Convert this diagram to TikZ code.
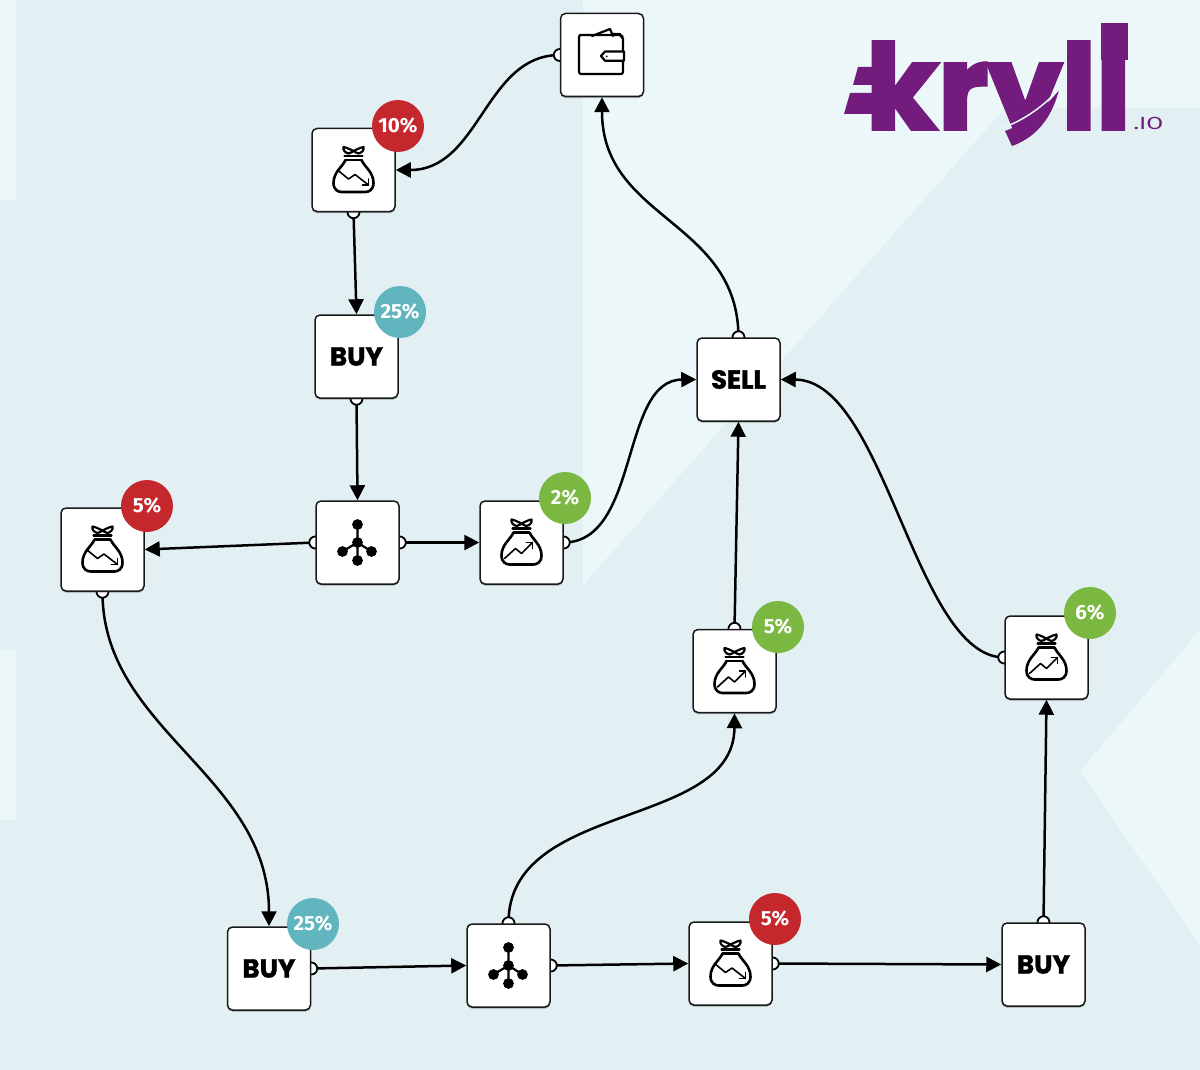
\documentclass[tikz,border=0pt]{standalone}
\usepackage{fontspec}
\usepackage{graphicx}
\usetikzlibrary{arrows.meta,shadows,backgrounds}
\pgfdeclarelayer{farback}
\pgfdeclarelayer{conns}
\pgfsetlayers{farback,conns,main}
\newfontfamily\badgefont{Fira Sans}
\newfontfamily\buyfont{Poppins}[FakeBold=1.5]
\newfontfamily\logofont{Poppins}[FakeBold=3]
\definecolor{bgbase}{HTML}{E2F0F4}
\definecolor{bglight}{HTML}{EBF7F9}
\definecolor{kred}{HTML}{C4282D}
\definecolor{kgreen}{HTML}{7AB842}
\definecolor{kteal}{HTML}{61B5BF}
\definecolor{kpurple}{HTML}{731C7E}
\tikzset{
  x=1pt,y=-1pt,
  boxnode/.style={draw=black!90,fill=white,line width=1.5pt,rounded corners=5pt,minimum size=83pt,inner sep=0pt,
    drop shadow={shadow xshift=0pt,shadow yshift=-1.6pt,opacity=.3,fill=black}},
  buybox/.style={boxnode,font=\buyfont\bfseries\fontsize{26}{26}\selectfont},
  badge/.style={circle,minimum size=52pt,inner sep=0pt,text=white,font=\badgefont\bfseries\fontsize{20.5}{20.5}\selectfont},
  conn/.style={line width=2.5pt,black,line cap=round},
  arr/.style={conn,-{Triangle[length=15pt,width=15pt]}},
  portdot/.style={draw=black,fill=white,line width=1.8pt},
  icon/.style={line width=2.6pt,black,line cap=round,line join=round},
  bagicon/.pic={
    \draw[icon,fill=none] (-8,-10) .. controls (-11,-3) and (-20,2) .. (-20,13) .. controls (-20,20) and (-15,22) .. (-12,22) -- (12,22) .. controls (15,22) and (20,20) .. (20,13) .. controls (20,2) and (11,-3) .. (8,-10);
    \draw[icon,line width=2.2pt] (-9,-14) -- (9,-14);
    \draw[icon,line width=2.2pt] (-8,-10) -- (8,-10);
    \draw[icon,line width=2.2pt,fill=white] (0,-19) .. controls (-3,-20) and (-5,-22) .. (-10,-23) .. controls (-11,-20) and (-8,-17) .. (-5,-16.5) .. controls (-3,-17) and (-1,-18) .. (0,-19) .. controls (1,-18) and (3,-17) .. (5,-16.5) .. controls (8,-17) and (11,-20) .. (10,-23) .. controls (5,-22) and (3,-20) .. (0,-19) -- cycle;
  },
  bagdown/.pic={
    \pic {bagicon};
    \draw[icon,line width=1.6pt] (-16,0) -- (-5,9) -- (1.5,4.5) -- (15,15);
    \draw[icon,line width=1.6pt] (15,9) -- (15,15) -- (9,15);
  },
  bagup/.pic={
    \pic {bagicon};
    \draw[icon,line width=1.6pt] (-17,16) -- (-6,6) -- (0,11) -- (11,0);
    \draw[icon,line width=1.6pt] (5,0) -- (11,0) -- (11,6);
  },
  hubicon/.pic={
    \draw[line width=2.2pt] (0,-18) -- (0,18) (-15,9) -- (0,0) -- (14,9);
    \foreach \p in {(0,-18),(0,0),(-15,9),(14,9),(0,18)} \fill \p circle (5.4);
  },
  walleticon/.pic={
    \draw[icon,line width=2.2pt,fill=white] (-10,-19) -- (8,-26) -- (11,-19);
    \draw[icon,line width=2.2pt] (11,-21) -- (18,-21) -- (20,-17);
    \draw[icon,line width=2.2pt] (-21,-20) -- (17,-20) .. controls (20,-20) and (21,-19) .. (21,-16) -- (21,-4);
    \draw[icon,line width=2.2pt] (-23,-18) .. controls (-23,-20) and (-22,-20) .. (-21,-20);
    \draw[icon,line width=2.2pt] (-23,-18) -- (-23,17) .. controls (-23,18) and (-22,19) .. (-21,19) -- (19,19) .. controls (20,19) and (21,18) .. (21,17) -- (21,6);
    \draw[icon,line width=2.2pt,fill=white] (22,-3.5) -- (3,-3.5) -- (-1,1) -- (3,5.7) -- (22,5.7) -- cycle;
    \fill (4.7,1.3) circle (1);
  },
}
\begin{document}
\begin{tikzpicture}
\useasboundingbox (0,0) rectangle (1200,1070);
% background
\begin{pgfonlayer}{farback}
\fill[bgbase] (0,0) rectangle (1200,1070);
\fill[bglight] (0,0) rectangle (16,200);
\fill[bglight] (0,650) rectangle (16,820);
\fill[bglight] (583,0) -- (1200,0) -- (1200,108) -- (1005,108) -- (583,585) -- cycle;
\fill[bglight] (1200,630) -- (1080,771) -- (1200,945) -- cycle;
\end{pgfonlayer}
% logo
\begin{scope}
\clip (838,15) rectangle (1140,131);
\node[anchor=base west,inner sep=0pt,text=kpurple] (logo) at (866,131) {\resizebox{264pt}{89pt}{\logofont\bfseries kryll}};
\end{scope}
\fill[kpurple] (1101,23) rectangle (1128,60);
\fill[kpurple] (858,67) -- (875,67) -- (875,85) -- (853,85) -- cycle;
\fill[kpurple] (850,93) -- (875,93) -- (875,114) -- (844,114) -- cycle;
\fill[kpurple] (1005,131) .. controls (1025,124) and (1045,108) .. (1059,90) .. controls (1053,113) and (1040,136) .. (1012,146) -- cycle;
\draw[bglight,line width=1.5pt] (1002,128) .. controls (1025,120) and (1045,105) .. (1060,88);
\node[anchor=base west,inner sep=0pt,text=kpurple,xscale=1.4,font=\badgefont\fontsize{17.5}{17.5}\selectfont] (logotld) at (1133,130) {.IO};
% nodes
\node[boxnode] (wallet) at (602,55) {};
\node[boxnode] (bagA) at (353.5,170) {};
\node[buybox] (buyA) at (356.5,356.5) {BUY};
\node[boxnode] (hubA) at (357.5,542.5) {};
\node[boxnode] (bagB) at (521.5,542.5) {};
\node[boxnode] (bagC) at (102.5,549.5) {};
\node[buybox] (sell) at (738.5,379.5) {SELL};
\node[boxnode] (bagD) at (734.5,671) {};
\node[boxnode] (bagE) at (1046.5,657.5) {};
\node[buybox] (buyB) at (269,968.5) {BUY};
\node[boxnode] (hubB) at (508.5,965.5) {};
\node[boxnode] (bagF) at (730.5,963.5) {};
\node[buybox] (buyC) at (1043.5,964.5) {BUY};
% icons
\pic at (wallet.center) {walleticon};
\pic at (bagA.center) {bagdown};
\pic at (bagC.center) {bagdown};
\pic at (bagF.center) {bagdown};
\pic at (bagB.center) {bagup};
\pic at (bagD.center) {bagup};
\pic at (bagE.center) {bagup};
\pic at (hubA.center) {hubicon};
\pic at (hubB.center) {hubicon};
% badges
\node[badge,fill=kred] (bdgA) at (398,126) {10\%};
\node[badge,fill=kteal] (bdgB) at (400,312) {25\%};
\node[badge,fill=kred] (bdgC) at (147,506) {5\%};
\node[badge,fill=kgreen] (bdgD) at (565,498) {2\%};
\node[badge,fill=kgreen] (bdgE) at (778,627) {5\%};
\node[badge,fill=kgreen] (bdgF) at (1090,613) {6\%};
\node[badge,fill=kteal] (bdgG) at (313,924) {25\%};
\node[badge,fill=kred] (bdgH) at (775,919) {5\%};
% connectors behind boxes
\begin{pgfonlayer}{conns}
\draw[arr] (wallet.west) .. controls (485,55) and (480,170) .. (bagA.east);
\draw[arr] (bagA.south) -- (buyA.north);
\draw[arr] (buyA.south) -- (hubA.north);
\draw[arr] (hubA.east) -- (bagB.west);
\draw[arr] (hubA.west) -- (bagC.east);
\draw[arr] (bagB.east) .. controls (640,542) and (620,380) .. (sell.west);
\draw[arr] (sell.north) .. controls (738,220) and (602,220) .. (wallet.south);
\draw[arr] (bagE.west) .. controls (915,657) and (885,380) .. (sell.east);
\draw[arr] (bagD.north) -- (sell.south);
\draw[arr] (bagC.south) .. controls (102,730) and (269,775) .. (buyB.north);
\draw[arr] (buyB.east) -- (hubB.west);
\draw[arr] (hubB.east) -- (bagF.west);
\draw[arr] (bagF.east) -- (buyC.west);
\draw[arr] (hubB.north) .. controls (508,800) and (734,830) .. (bagD.south);
\draw[arr] (buyC.north) -- (bagE.south);
\foreach \a in {wallet.west,bagA.south,buyA.south,hubA.east,hubA.west,bagB.east,sell.north,bagE.west,bagD.north,bagC.south,buyB.east,hubB.east,bagF.east,hubB.north,buyC.north}
  \draw[portdot] (\a) circle (6);
\end{pgfonlayer}
\end{tikzpicture}
\end{document}
